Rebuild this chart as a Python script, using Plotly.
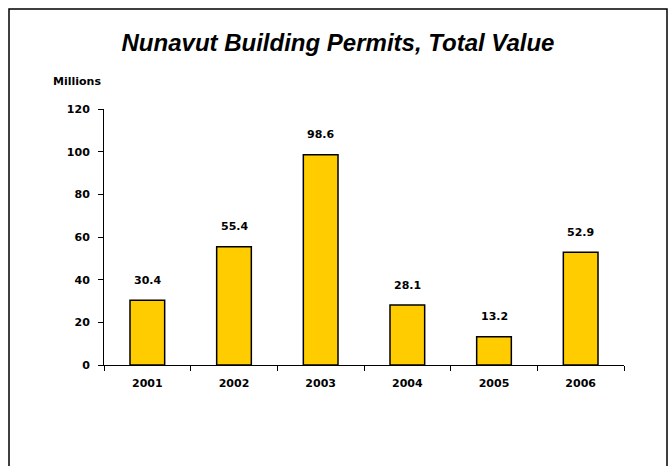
import plotly.graph_objects as go

years = ["2001", "2002", "2003", "2004", "2005", "2006"]
values = [30.4, 55.4, 98.6, 28.1, 13.2, 52.9]
labels = ["30.4", "55.4", "98.6", "28.1", "13.2", "52.9"]
y_ticks = [0, 20, 40, 60, 80, 100, 120]

L, R, T, B = 104, 46, 109, 101
W, H = 670, 466
pw, ph = W - L - R, H - T - B

FONT = "Liberation Sans, Arial"
SMALL = "DejaVu Sans, Liberation Sans"

fig = go.Figure()
fig.add_trace(go.Bar(
    x=years, y=values, width=0.4,
    marker=dict(color="#FFCC00", line=dict(color="black", width=1.5)),
    hoverinfo="skip",
))

for i, (v, lab) in enumerate(zip(values, labels)):
    fig.add_annotation(x=i, y=v, text=lab, showarrow=False, yshift=20,
                       font=dict(family=SMALL, size=11, color="black", weight="bold"))

fig.add_annotation(xref="paper", yref="paper", x=(77 - L) / pw, y=1.0, yshift=36,
                   text="Millions", showarrow=False, xanchor="center",
                   font=dict(family=SMALL, size=11, color="black", weight="bold"))

# frame
fig.add_shape(type="rect", xref="paper", yref="paper",
              x0=(9 - L) / pw, x1=(667 - L) / pw,
              y0=-0.6, y1=(H - B - 9) / ph,
              line=dict(color="black", width=1.5), fillcolor="rgba(0,0,0,0)")

fig.update_layout(
    width=W, height=H,
    margin=dict(l=L, r=R, t=T, b=B),
    paper_bgcolor="white", plot_bgcolor="white",
    showlegend=False,
    title=dict(text="<b><i>Nunavut Building Permits, Total Value</i></b>",
               x=338 / W, xanchor="center", y=1 - 43 / H, yanchor="middle",
               font=dict(family=FONT, size=24, color="black")),
    font=dict(family=SMALL, size=11, color="black"),
    xaxis=dict(type="category", categoryorder="array", categoryarray=years,
               range=[-0.5, len(years) - 0.5],
               showline=True, linecolor="black", linewidth=1,
               ticks="outside", tickson="boundaries", ticklen=5, tickcolor="black",
               tickfont=dict(family=SMALL, size=11, weight="bold"), showgrid=False,
               ticklabelstandoff=8, tickangle=0),
    yaxis=dict(range=[0, 120], tickvals=y_ticks, showline=True, linecolor="black",
               linewidth=1, ticks="outside", ticklen=5, tickcolor="black",
               tickfont=dict(family=SMALL, size=11, weight="bold"), showgrid=False,
               zeroline=False, ticklabelstandoff=6),
)

fig.write_html("out.html", config={"displayModeBar": False},
               post_script="document.body.style.margin='0';")
